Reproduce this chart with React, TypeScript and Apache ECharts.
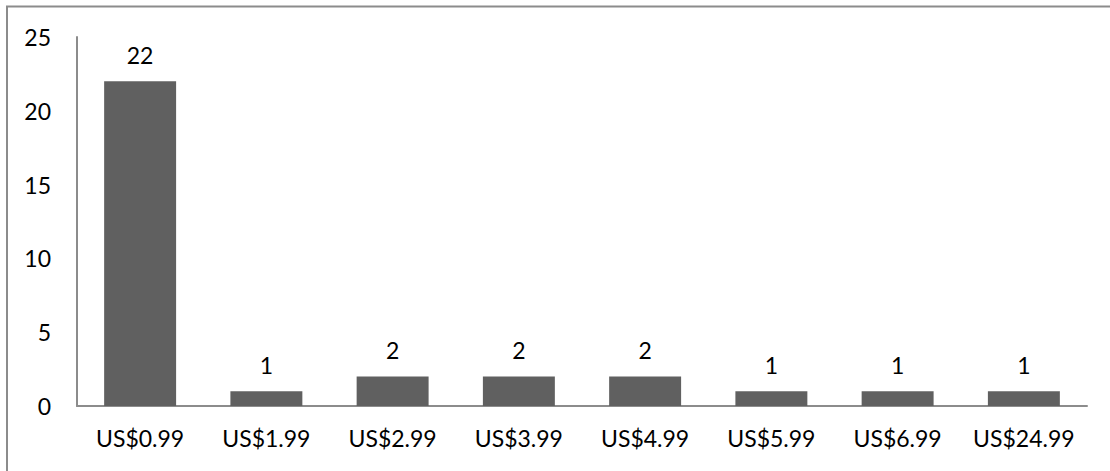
import React, { useEffect, useRef } from "react";
import * as echarts from "echarts";

const categories = ["US$0.99", "US$1.99", "US$2.99", "US$3.99", "US$4.99", "US$5.99", "US$6.99", "US$24.99"];
const counts = [22, 1, 2, 2, 2, 1, 1, 1];

const FONT = "Lato, 'Open Sans', sans-serif";

export default function App() {
  const ref = useRef<HTMLDivElement>(null);
  useEffect(() => {
    const chart = echarts.init(ref.current!, null, { renderer: "svg" });
    chart.setOption({
      animation: false,
      backgroundColor: "#ffffff",
      graphic: [
        {
          type: "rect",
          shape: { x: 7, y: 6.5, width: 1200, height: 600 },
          style: { fill: "none", stroke: "#8c8c8c", lineWidth: 2 },
          silent: true,
        },
      ],
      grid: { left: 77, top: 37, right: 23, bottom: 65 },
      xAxis: {
        type: "category",
        data: categories,
        axisLine: { lineStyle: { color: "#8c8c8c", width: 2 } },
        axisTick: { show: false },
        axisLabel: { color: "#000", fontSize: 23, fontFamily: FONT, margin: 20, interval: 0, hideOverlap: false },
      },
      yAxis: {
        type: "value",
        min: 0,
        max: 25,
        interval: 5,
        axisLine: { show: true, lineStyle: { color: "#8c8c8c", width: 2 } },
        axisTick: { show: false },
        splitLine: { show: false },
        axisLabel: { color: "#000", fontSize: 23, fontFamily: FONT, margin: 26 },
      },
      series: [
        {
          type: "bar",
          data: counts,
          barWidth: "57%",
          itemStyle: { color: "#606060" },
          label: {
            show: true,
            position: "top",
            distance: 15,
            color: "#000",
            fontSize: 23,
            fontFamily: FONT,
          },
        },
      ],
    });
    return () => chart.dispose();
  }, []);
  return (
    <div
      ref={ref}
      style={{ position: "absolute", left: 0, top: 0, width: 1110, height: 471 }}
    />
  );
}
